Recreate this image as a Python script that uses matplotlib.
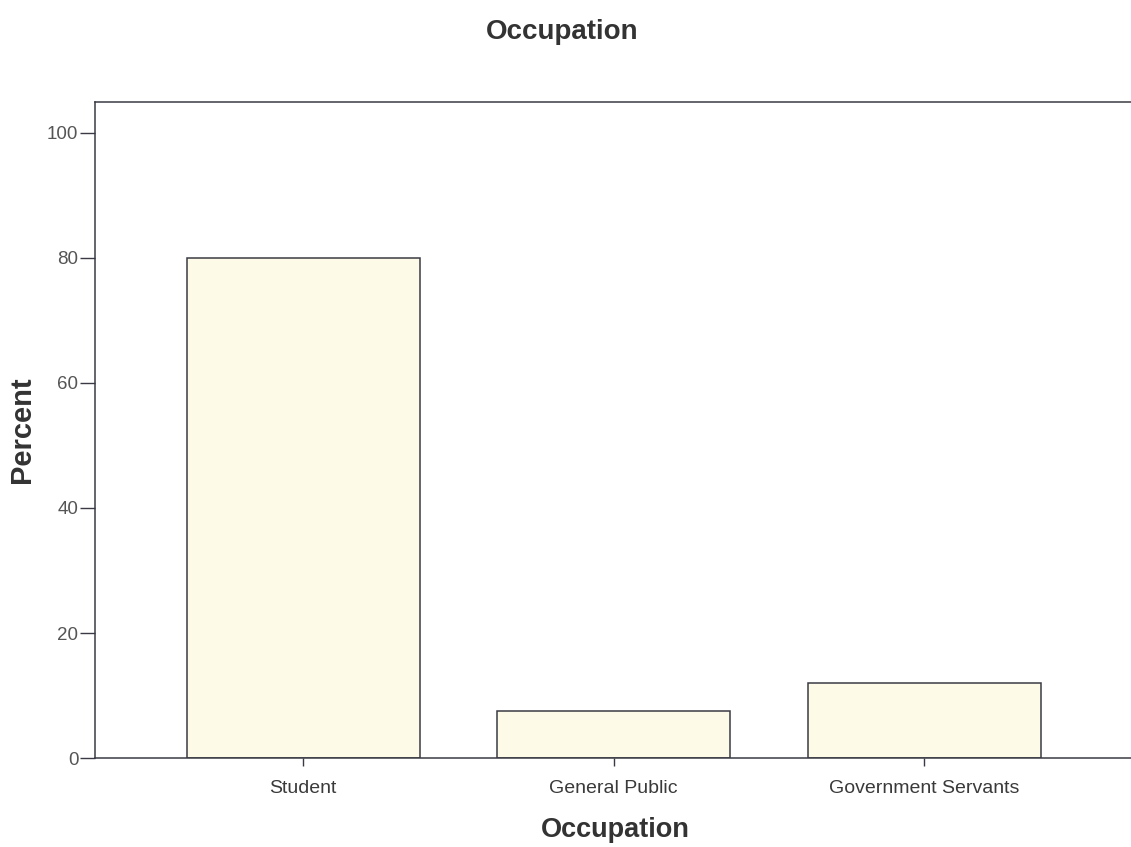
import matplotlib
matplotlib.use("Agg")
import matplotlib.pyplot as plt

categories = ["Student", "General Public", "Government Servants"]
percent = [80.0, 7.5, 12.0]
yticks = [0, 20, 40, 60, 80, 100]

plt.rcParams['font.family'] = ['Liberation Sans', 'DejaVu Sans']

fig = plt.figure(figsize=(11.31, 8.47), dpi=100)
ax = fig.add_axes([0.084, 0.105, 0.92, 0.775])

x = range(len(categories))
ax.bar(x, percent, width=0.75, color="#fdfbe8", edgecolor="#3a3a44", linewidth=1.1)

ax.set_xlim(-0.67, 2.68)
ax.set_ylim(0, 105)
ax.set_xticks(list(x))
ax.set_xticklabels(categories, fontsize=14, color="#3a3a3a")
ax.set_yticks(yticks)
ax.set_yticklabels([str(t) for t in yticks], fontsize=13.5, color="#555555")
ax.tick_params(axis="y", length=11, width=1, color="#3a3a44", pad=1)
ax.tick_params(axis="x", length=6, width=1, color="#3a3a44", pad=10)

for s in ["left", "bottom", "top"]:
    ax.spines[s].set_color("#3a3a44")
    ax.spines[s].set_linewidth(1.1)
ax.spines["right"].set_visible(False)

ax.set_xlabel("Occupation", fontsize=19.5, fontweight="bold", color="#333333", labelpad=14)
ax.set_ylabel("Percent", fontsize=21, fontweight="bold", color="#333333", labelpad=8)
fig.text(0.497, 0.962, "Occupation", fontsize=20, fontweight="bold", color="#333333",
         ha="center", va="center")

fig.savefig("out.png", dpi=100)
